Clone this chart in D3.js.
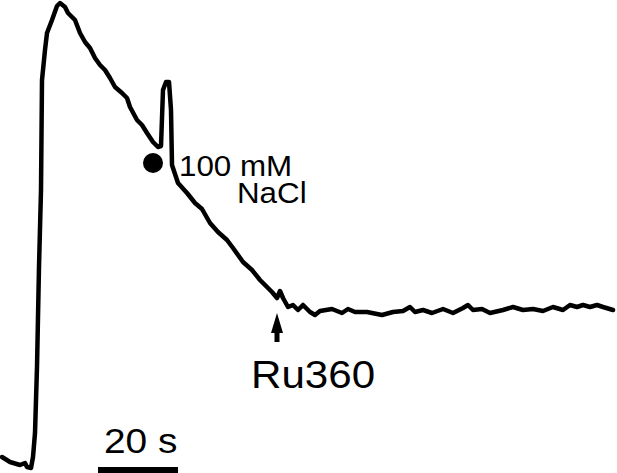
<!DOCTYPE html>
<html>
<head>
<meta charset="utf-8">
<script src="https://cdn.jsdelivr.net/npm/d3@7"></script>
<style>
  body { margin: 0; background: #fff; }
  svg text { font-family: "Liberation Sans", Arial, Helvetica, sans-serif; fill: #000; }
</style>
</head>
<body>
<script>
// trace: time (s) and signal (arbitrary units)
var times = [0, 2, 4.5, 5.75, 6.25, 7.25, 7.75, 8.25, 8.75, 9.25, 9.75, 10, 10.75, 11.25, 12.5, 13.75, 14.5,
  15.75, 16.5, 18.25, 19.5, 20.75, 22, 23.25, 24.5, 25.75, 27, 28.25, 30, 31.25, 32, 33.75, 35, 36.25, 37.75,
  39, 39.75, 40.25, 41, 41.75, 42.25, 42.5, 44, 46.25, 48.25, 50, 52, 54, 56.25, 57.75, 59, 60.25, 62.5, 64.5,
  66.25, 67.5, 68.75, 69.5, 70.25, 71.5, 72.75, 74, 75.25, 77, 78.25, 79.5, 82.5, 85, 86.5, 88.25, 91.25, 95,
  97.75, 100.25, 102, 103.25, 105.25, 107.5, 110.25, 112.75, 115.25, 116.5, 117.75, 120, 122, 125.25, 127.75,
  130.25, 132.75, 135.25, 137.75, 140.25, 142, 143.75, 145.25, 147, 148.75, 150.25, 152.75];
var signal = [2.2, 1.2, 0.6, 1.0, 0.2, 0, 2.2, 7.0, 20.2, 40.2, 55.6, 77.6, 83.6, 87.0, 89.6, 92.4, 93.0,
  92.2, 91.0, 89.6, 87.0, 85.2, 84.0, 82.0, 80.6, 79.6, 78.0, 76.2, 75.0, 74.0, 72.2, 69.6, 68.6, 67.0, 65.2,
  64.2, 64.4, 75.6, 77.2, 77.2, 71.6, 60.6, 57.0, 55.0, 53.0, 51.8, 49.0, 47.2, 45.6, 44.0, 42.6, 41.2, 39.6, 37.6,
  36.2, 35.2, 34.0, 35.4, 34.0, 32.2, 32.6, 31.6, 32.6, 31.2, 30.6, 31.4, 31.8, 31.0, 31.8, 31.2, 31.2, 30.6,
  31.2, 31.4, 32.2, 31.2, 31.6, 31.0, 31.8, 31.0, 32.0, 32.6, 31.6, 31.8, 31.0, 31.6, 32.2,
  31.6, 31.8, 31.4, 32.2, 31.6, 32.6, 32.2, 32.6, 32.2, 32.6, 32.2, 31.6];

// events
var naclTime = 37.75, naclLevel = 61;
var naclLabel = ["100 mM", "NaCl"];
var ruTime = 68.75, ruLevel = 31;
var ruLabel = "Ru360";
var scaleBarSeconds = 20;
var scaleBarLabel = "20 s";

var width = 617, height = 473;

var x = d3.scaleLinear().domain([0, 153.5]).range([2, 616]);
var y = d3.scaleLinear().domain([0, 93]).range([468, 3]);

var svg = d3.select("body").append("svg")
  .attr("width", width)
  .attr("height", height);

var data = times.map(function(t, i) { return {t: t, v: signal[i]}; });

var line = d3.line()
  .x(function(d) { return x(d.t); })
  .y(function(d) { return y(d.v); });

svg.append("path")
  .datum(data)
  .attr("d", line)
  .attr("fill", "none")
  .attr("stroke", "#000")
  .attr("stroke-width", 4.5)
  .attr("stroke-linejoin", "round")
  .attr("stroke-linecap", "round");

var stretch = 1.08;
function label(txt, px, py, size) {
  svg.append("text")
    .attr("transform", "translate(" + px + "," + py + ") scale(" + stretch + ",1)")
    .style("font-size", size + "px")
    .text(txt);
}

// NaCl marker
var dotX = x(naclTime), dotY = y(naclLevel);
svg.append("circle")
  .attr("cx", dotX)
  .attr("cy", dotY)
  .attr("r", 10)
  .attr("fill", "#000");
label(naclLabel[0], dotX + 26, dotY + 13, 29);
label(naclLabel[1], dotX + 84, dotY + 40, 29);

// Ru360 arrow
var ax = x(ruTime), ay = y(ruLevel);
svg.append("path")
  .attr("d", "M" + ax + "," + ay +
    "L" + (ax + 6) + "," + (ay + 20) +
    "L" + (ax + 2.5) + "," + (ay + 20) +
    "L" + (ax + 2.5) + "," + (ay + 29) +
    "L" + (ax - 2.5) + "," + (ay + 29) +
    "L" + (ax - 2.5) + "," + (ay + 20) +
    "L" + (ax - 6) + "," + (ay + 20) + "Z")
  .attr("fill", "#000");
label(ruLabel, ax - 26, ay + 75, 39);

// scale bar
var barX = 98;
svg.append("rect")
  .attr("x", barX)
  .attr("y", 467)
  .attr("width", x(scaleBarSeconds) - x(0))
  .attr("height", 6)
  .attr("fill", "#000");
label(scaleBarLabel, barX + 6, 453, 36);
</script>
</body>
</html>
